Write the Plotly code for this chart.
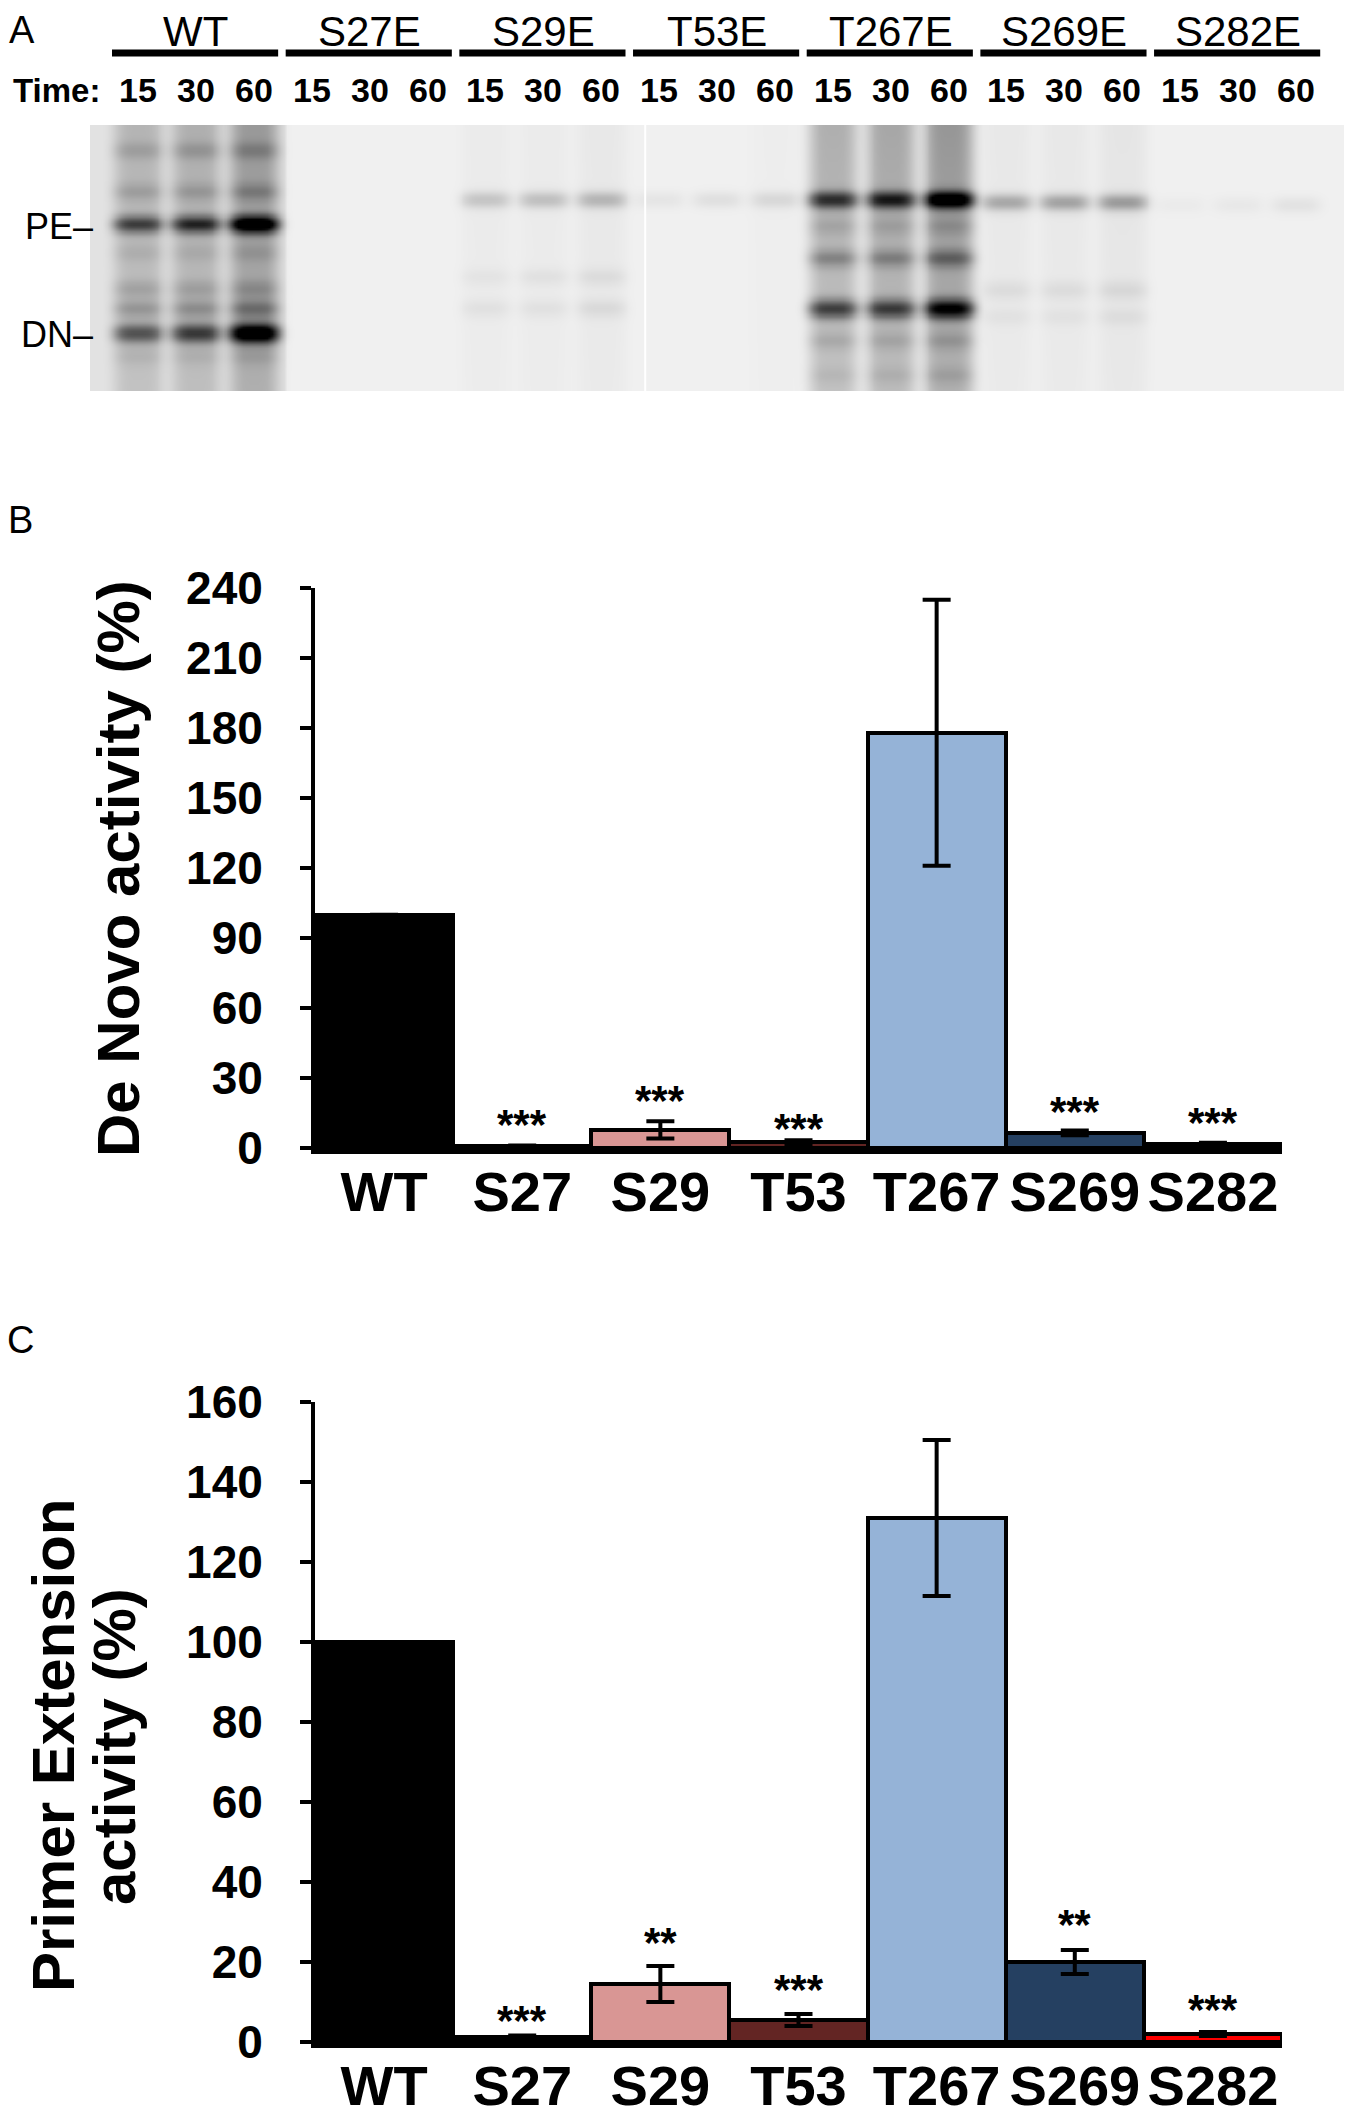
import numpy as np
import plotly.graph_objects as go

W, H = 1352, 2113
FONT = "Liberation Sans, Arial, sans-serif"

# ---- panel A: gel ----
gel_groups = ["WT", "S27E", "S29E", "T53E", "T267E", "S269E", "S282E"]
time_points = ["15", "30", "60"]

# band darkness per lane (21 lanes, 0 = none, 1 = black)
lane_smear = [0.17, 0.19, 0.27, 0, 0, 0, 0.02, 0.02, 0.03, 0, 0, 0.01,
              0.24, 0.27, 0.33, 0.03, 0.03, 0.04, 0, 0, 0]
upper_band = [0.5, 0.6, 0.95, 0, 0, 0, 0.14, 0.16, 0.19, 0.04, 0.06, 0.08,
              0.55, 0.62, 0.9, 0.24, 0.26, 0.28, 0.02, 0.03, 0.05]
upper_pos = [0.372] * 3 + [0.28] * 12 + [0.29] * 3 + [0.30] * 3
lower_band = [0.42, 0.52, 0.95, 0, 0, 0, 0.04, 0.04, 0.06, 0, 0, 0,
              0.5, 0.5, 0.75, 0.05, 0.05, 0.06, 0, 0, 0]
lower_pos = [0.782] * 3 + [0.688] * 9 + [0.69] * 3 + [0.62] * 3 + [0.69] * 3
# minor bands: (group, position, darkness of the three lanes)
minor_bands = [
    (0, 0.095, [0.09, 0.11, 0.13]), (0, 0.25, [0.1, 0.11, 0.15]),
    (0, 0.48, [0.05, 0.05, 0.07]), (0, 0.615, [0.1, 0.1, 0.12]),
    (0, 0.69, [0.15, 0.17, 0.24]), (0, 0.87, [0.05, 0.05, 0.07]),
    (4, 0.38, [0.07, 0.07, 0.09]), (4, 0.5, [0.2, 0.2, 0.28]),
    (4, 0.81, [0.08, 0.08, 0.1]), (4, 0.94, [0.04, 0.05, 0.07]),
    (2, 0.57, [0.03, 0.04, 0.05]), (5, 0.72, [0.03, 0.03, 0.04]),
]

# ---- panels B and C ----
categories = ["WT", "S27", "S29", "T53", "T267", "S269", "S282"]
bar_colors = ["#000000", "#000000", "#d99694", "#632523", "#95b3d7", "#254061", "#ff0000"]
de_novo = [100, 0.8, 7.8, 2.5, 178, 6.5, 1.8]
de_novo_err = [0, 0.3, 3.7, 0.8, 57, 1.0, 0.4]
de_novo_sig = ["", "***", "***", "***", "", "***", "***"]
de_novo_sig_y = [0, 13.8, 24.2, 12.1, 0, 19.6, 15]
primer_ext = [100, 1.2, 14.5, 5.5, 131, 20, 2.0]
primer_ext_err = [0, 0.4, 4.5, 1.5, 19.5, 3.0, 0.5]
primer_ext_sig = ["", "***", "**", "***", "", "**", "***"]
primer_ext_sig_y = [0, 7.7, 27.2, 15.5, 0, 31.6, 10.4]

# the page body adds an 8 px offset, so place everything 8 px up/left
OFF = 8


def px(x):
    return (x - OFF) / W


def py(y):
    return 1 - (y - OFF) / H


# build the gel picture from the band table
gx = np.arange(-0.83, 20.9, 0.05)
gy = np.arange(0, 1.0001, 0.008)
X, Y = np.meshgrid(gx, gy)
z = np.full(X.shape, 0.055)
z += np.where(X < 2.55, 0.05, 0.0)
for i in range(21):
    prof = np.exp(-((X - i) / 0.43) ** 4)
    col = lane_smear[i] * (1 - 0.3 * Y)
    col = col + upper_band[i] * np.exp(-((Y - upper_pos[i]) / 0.032) ** 2)
    col = col + lower_band[i] * np.exp(-((Y - lower_pos[i]) / 0.036) ** 2)
    z += prof * col
for g, pos, vals in minor_bands:
    for k in range(3):
        prof = np.exp(-((X - (3 * g + k)) / 0.43) ** 4)
        z += prof * vals[k] * np.exp(-((Y - pos) / 0.034) ** 2)
z = np.clip(z, 0, 1)

fig = go.Figure()

fig.add_trace(go.Heatmap(
    x=gx, y=gy, z=z, xaxis="x3", yaxis="y3", zmin=0, zmax=1, zsmooth="best",
    colorscale=[[0, "#ffffff"], [0.5, "#777777"], [1, "#000000"]],
    showscale=False, hoverinfo="skip"))

fig.add_trace(go.Bar(
    x=categories, y=de_novo, marker=dict(color=bar_colors, line=dict(color="black", width=4)),
    error_y=dict(type="data", array=de_novo_err, color="black", thickness=4, width=14),
    xaxis="x", yaxis="y", showlegend=False))

fig.add_trace(go.Bar(
    x=categories, y=primer_ext, marker=dict(color=bar_colors, line=dict(color="black", width=4)),
    error_y=dict(type="data", array=primer_ext_err, color="black", thickness=4, width=14),
    xaxis="x2", yaxis="y2", showlegend=False))

ann = []
shapes = []


def note(text, x, y, xref="paper", yref="paper", size=35, bold=False, **kw):
    font = dict(family=FONT, size=size, color="black")
    if bold:
        font["weight"] = "bold"
    d = dict(x=x, y=y, xref=xref, yref=yref, text=text, showarrow=False,
             xanchor="center", yanchor="middle", font=font)
    d.update(kw)
    ann.append(d)


# significance stars
for cat, s, yv in zip(categories, de_novo_sig, de_novo_sig_y):
    if s:
        note(s, cat, yv, "x", "y", size=42, bold=True, yshift=-9)
for cat, s, yv in zip(categories, primer_ext_sig, primer_ext_sig_y):
    if s:
        note(s, cat, yv, "x2", "y2", size=42, bold=True, yshift=-9)

# axis titles
note("De Novo activity (%)", px(119), py(869), size=60, bold=True, textangle=-90)
note("Primer Extension", px(53), py(1745), size=60, bold=True, textangle=-90)
note("activity (%)", px(114), py(1747), size=60, bold=True, textangle=-90)

# panel letters
for letter, (lx, ly) in zip("ABC", [(22, 30), (20, 520), (20, 1340)]):
    note(letter, px(lx), py(ly), size=38)

# gel header
for g, name in enumerate(gel_groups):
    note(name, 3 * g + 1, py(31), "x3", size=42)
    shapes.append(dict(type="line", xref="x3", yref="paper", x0=3 * g - 0.45, x1=3 * g + 2.42,
                       y0=py(53), y1=py(53), line=dict(color="black", width=7)))
    for k, t in enumerate(time_points):
        note(t, 3 * g + k, py(90), "x3", size=34, bold=True)
note("Time:", px(56), py(90), size=33, bold=True)
note("PE\u2013", px(95), py(226), size=36, xanchor="right")
note("DN\u2013", px(95), py(334), size=36, xanchor="right")

# white seam between the two gel pieces
shapes.append(dict(type="line", xref="x3", yref="y3", x0=8.76, x1=8.76, y0=0, y1=1,
                   line=dict(color="white", width=2)))

xcat = dict(type="category", range=[-0.5, 6.5], showline=True, linecolor="black", linewidth=6,
            ticks="", showgrid=False, zeroline=False, ticklabelstandoff=-10, automargin=False,
            tickfont=dict(family=FONT, size=56, color="black", weight="bold"))
yval = dict(showline=True, linecolor="black", linewidth=4, ticks="outside", ticklen=11,
            tickwidth=4, tickcolor="black", showgrid=False, zeroline=False, ticklabelstandoff=28,
            automargin=False, tickfont=dict(family=FONT, size=46, color="black", weight="bold"))

fig.update_layout(
    width=W, height=H, margin=dict(l=0, r=0, t=0, b=0, pad=0, autoexpand=False),
    paper_bgcolor="white", plot_bgcolor="white", bargap=0, showlegend=False,
    xaxis=dict(domain=[px(315), px(1282)], anchor="y", **xcat),
    yaxis=dict(domain=[py(1148), py(588)], anchor="x", range=[0, 240], dtick=30, **yval),
    xaxis2=dict(domain=[px(315), px(1282)], anchor="y2", **xcat),
    yaxis2=dict(domain=[py(2042), py(1402)], anchor="x2", range=[0, 160], dtick=20, **yval),
    xaxis3=dict(domain=[px(90), px(1348)], anchor="y3", range=[-0.83, 20.9], visible=False,
                automargin=False),
    yaxis3=dict(domain=[py(391), py(125)], anchor="x3", range=[1, 0], visible=False,
                automargin=False),
    annotations=ann, shapes=shapes,
)

fig.write_html("out.html")
